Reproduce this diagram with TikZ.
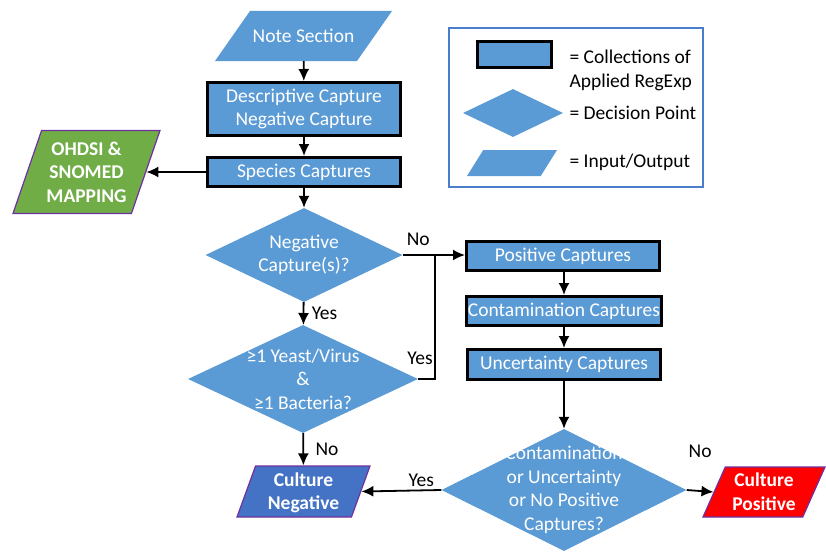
\documentclass[tikz,border=0pt]{standalone}
\usepackage{fontspec}
\setmainfont{Carlito}
\usetikzlibrary{shapes.geometric,arrows.meta}
\definecolor{boxblue}{HTML}{5B9BD5}
\definecolor{darkblue}{HTML}{4472C4}
\definecolor{mapgreen}{HTML}{70AD47}
\definecolor{edgepurple}{HTML}{7030A0}
\definecolor{keyblue}{HTML}{4A7DCB}
\newcommand{\iolines}[2]{\vbox to #1{\kern4pt\vss\hbox{\begin{tabular}{@{}c@{}}#2\end{tabular}}\vss}}
\begin{document}
\begin{tikzpicture}[x=1pt, y=-1pt, >={Latex[length=12pt,width=11pt]},
	every node/.style={font=\fontsize{19.5}{23.5}\selectfont},
	capture/.style={rectangle, fill=boxblue, draw=black, line width=3pt, text=white, inner sep=0pt, align=center},
	decision/.style={diamond, fill=boxblue, inner sep=0pt},
	inout/.style={trapezium, trapezium stretches body, fill=boxblue, text=white, inner sep=0pt},
	result/.style={inout, draw=edgepurple, line width=1.2pt, font=\fontsize{19.5}{23.5}\selectfont\bfseries},
	flow/.style={line width=1.8pt, ->},
	answer/.style={text=black}]
	\useasboundingbox (0,0) rectangle (826,551);
	\node[inout, trapezium left angle=55, trapezium right angle=125, minimum width=177pt] (note) at (303.5,36) {\iolines{50pt}{Note Section}};
	\node[capture, minimum width=193pt, minimum height=53pt] (desc) at (304,109) {Descriptive Capture\\Negative Capture};
	\node[capture, minimum width=193pt, minimum height=29pt] (species) at (304,172) {Species Captures};
	\node[result, fill=mapgreen, trapezium left angle=71, trapezium right angle=109, minimum width=147pt] (ohdsi) at (86.5,172) {\iolines{83pt}{OHDSI \&\\SNOMED\\MAPPING}};
	\node[decision, minimum width=197pt, minimum height=94pt, label={[text=white, align=center]center:Negative\\Capture(s)?}] (neg) at (304,255) {};
	\node[decision, minimum width=230pt, minimum height=108pt, label={[text=white, align=center]center:≥1 Yeast/Virus\\\&\\≥1 Bacteria?}] (yeast) at (303,379) {};
	\node[capture, minimum width=193pt, minimum height=29pt] (positive) at (563,256) {Positive Captures};
	\node[capture, minimum width=195pt, minimum height=29pt] (contam) at (564,311) {Contamination Captures};
	\node[capture, minimum width=193pt, minimum height=30pt] (uncert) at (564,364.5) {Uncertainty Captures};
	\node[decision, minimum width=245pt, minimum height=122pt, label={[text=white, align=center]center:Contamination\\or Uncertainty\\or No Positive\\Captures?}] (final) at (564,490) {};
	\node[result, fill=darkblue, trapezium left angle=70, trapezium right angle=110, minimum width=133pt] (cneg) at (303.5,491.5) {\iolines{51pt}{Culture\\Negative}};
	\node[result, fill=red, trapezium left angle=66, trapezium right angle=114, minimum width=122pt] (cpos) at (764,492) {\iolines{50pt}{Culture\\Positive}};
	\coordinate (junc) at (435,255);%Yes-Rueckfuehrung
	\draw[flow] (note) -- (desc);
	\draw[flow] (desc) -- (species);
	\draw[flow] (species.west) -- (ohdsi.east);
	\draw[flow] (species) -- (neg);
	\draw[flow] (neg) -- node[answer, right=4pt] {Yes} (yeast);
	\draw[flow] (neg.east) -- node[answer, pos=0.25, above=5pt] {No} (neg.east -| positive.west);
	\draw[line width=1.8pt] (yeast.east) -| node[answer, pos=0.5, above left, yshift=10pt, xshift=2pt] {Yes} (junc);
	\draw[flow] (positive.south -| contam) -- (contam);
	\draw[flow] (contam) -- (uncert);
	\draw[flow] (uncert) -- (final);
	\draw[flow] (yeast) -- node[answer, right=8pt] {No} (cneg);
	\draw[flow] (final.west) -- node[answer, pos=0.25, above] {Yes} (cneg.east);
	\draw[flow] (final.east) -- node[answer, above=29pt] {No} (cpos.west);
	%Legende
	\draw[keyblue, line width=1.5pt] (449,28) rectangle (703,187);
	\node[capture, minimum width=74pt, minimum height=26pt] (keybox) at (514.5,54.5) {};
	\node[decision, minimum width=100pt, minimum height=48pt] (keydiamond) at (513,113) {};
	\node[inout, trapezium left angle=58, trapezium right angle=122, minimum width=90pt] (keyio) at (512,163) {\iolines{26pt}{}};
	\node[anchor=west, align=left] (keyboxtext) at (566,70.5) {= Collections of\\Applied RegExp};
	\node[anchor=west] (keydiamondtext) at (566,113) {= Decision Point};
	\node[anchor=west] (keyiotext) at (566,162.5) {= Input/Output};
\end{tikzpicture}
\end{document}
